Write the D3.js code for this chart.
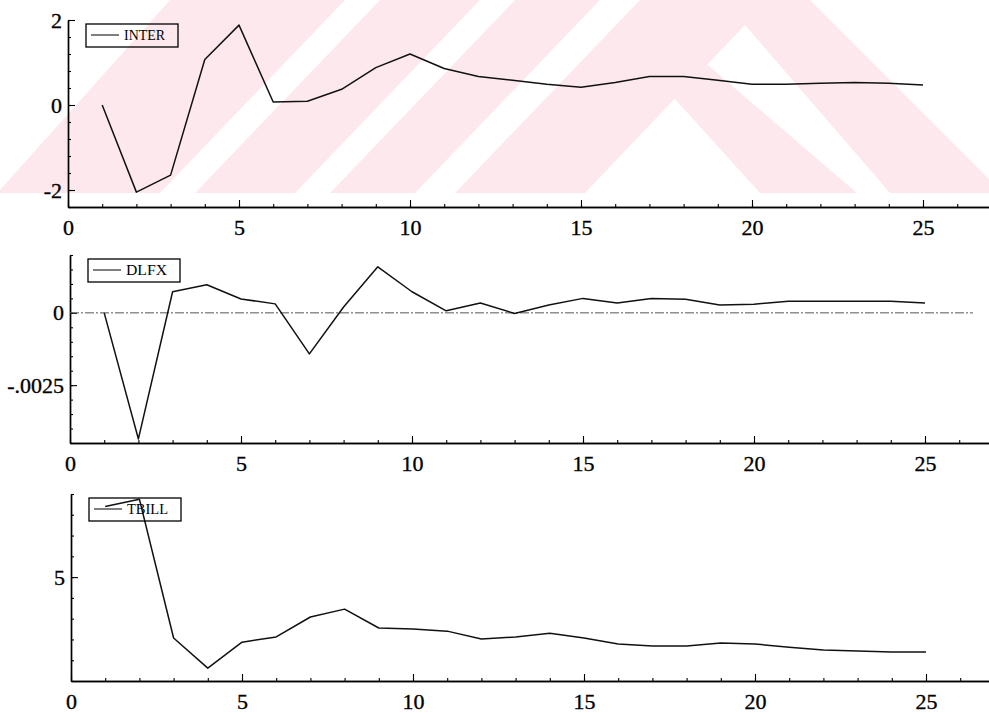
<!DOCTYPE html>
<html>
<head>
<meta charset="utf-8">
<script src="https://cdn.jsdelivr.net/npm/d3@7"></script>
<style>
	body { margin: 0; background: #fff; }
	svg { display: block; }
	svg text { font-family: "Liberation Serif", "Times New Roman", serif; fill: #000; }
</style>
</head>
<body>
<div id="chart"></div>
<script>
// impulse responses, lags 1..25
var lags = d3.range(1, 26);

var inter = [0, -2.05, -1.65, 1.07, 1.88, 0.07, 0.09, 0.37, 0.88, 1.2, 0.86, 0.67, 0.58,
	0.49, 0.42, 0.53, 0.67, 0.67, 0.58, 0.49, 0.49, 0.51, 0.53, 0.51, 0.47];

var dlfx = [0, -0.00436, 0.00073, 0.00097, 0.00048, 0.00031, -0.00142, 0.0002, 0.00159,
	0.00073, 0.00007, 0.00034, -0.00002, 0.00027, 0.0005, 0.00034, 0.0005, 0.00047,
	0.00027, 0.0003, 0.0004, 0.0004, 0.0004, 0.0004, 0.00034];

var tbill = [8.4, 8.75, 2.07, 0.62, 1.87, 2.12, 3.08, 3.46, 2.55, 2.5, 2.4, 2.02, 2.12,
	2.3, 2.07, 1.78, 1.68, 1.68, 1.83, 1.78, 1.63, 1.49, 1.44, 1.39, 1.39];

var seriesNames = ['INTER', 'DLFX', 'TBILL'];
var xTickLabels = [0, 5, 10, 15, 20, 25];
var interTicks = [-2, 0, 2];
var dlfxTicks = [0, -0.0025];
var tbillTicks = [5];

var width = 989,
	height = 713;

var serif = '"Liberation Serif", "Times New Roman", serif';

var svg = d3.select('#chart').append('svg')
	.attr('width', width)
	.attr('height', height);

// faint watermark behind the top panel
(function () {
	var wm = svg.append('g');
	var poly = function (pts, fill) {
		wm.append('polygon')
			.attr('points', pts.map(function (p) { return p.join(','); }).join(' '))
			.style('fill', fill);
	};
	poly([[170, 0], [810, 0], [989, 179], [989, 193], [0, 193], [0, 190]], '#fde9ed');
	poly([[160, 193], [195, 193], [380, 0], [345, 0]], '#fff');
	poly([[295, 193], [330, 193], [515, 0], [480, 0]], '#fff');
	poly([[415, 193], [455, 193], [640, 0], [600, 0]], '#fff');
	poly([[745, 25], [890, 193], [585, 193]], '#fff');
	poly([[702, 60], [857, 193], [760, 193], [673, 97]], '#fde9ed');
})();

var panels = [
	{ name: seriesNames[0], values: inter, left: 68, top: 20, bottom: 207,
		domain: [-2.4, 2.0], minor: d3.range(-2.4, 2.01, 0.4), major: interTicks,
		fmt: function (d) { return String(d); } },
	{ name: seriesNames[1], values: dlfx, left: 70, top: 255, bottom: 443,
		domain: [-0.0045, 0.002], minor: d3.range(-0.0045, 0.00201, 0.0005), major: dlfxTicks,
		fmt: function (d) { return d === 0 ? '0' : '-' + String(Math.abs(d)).replace('0.', '.'); },
		zero: true },
	{ name: seriesNames[2], values: tbill, left: 71, top: 494, bottom: 681,
		domain: [0, 9], minor: d3.range(0, 9.01, 1), major: tbillTicks,
		fmt: function (d) { return String(d); } }
];

var unit = 34.2;

function styleLabels(sel) {
	sel.attr('font-family', null).attr('font-size', null);
	sel.selectAll('text')
		.style('font-family', serif)
		.style('font-size', '22px')
		.style('stroke', '#000')
		.style('stroke-width', 0.35);
}

panels.forEach(function (p) {
	var x = d3.scaleLinear()
		.domain([0, (width - p.left) / unit])
		.range([p.left, width]);

	var y = d3.scaleLinear()
		.domain(p.domain)
		.range([p.bottom, p.top]);

	var g = svg.append('g');

	// x axis: minor ticks every lag, major every 5, all pointing up
	g.append('g')
		.attr('transform', 'translate(0,' + p.bottom + ')')
		.call(d3.axisBottom(x).tickValues(d3.range(0, 27)).tickFormat('')
			.tickSizeInner(-3).tickSizeOuter(0));

	g.append('g')
		.attr('transform', 'translate(0,' + p.bottom + ')')
		.call(d3.axisBottom(x).tickValues(xTickLabels)
			.tickSizeInner(-7).tickSizeOuter(0).tickPadding(12))
		.call(styleLabels);

	// y axis
	g.append('g')
		.attr('transform', 'translate(' + p.left + ',0)')
		.call(d3.axisLeft(y).tickValues(p.minor).tickFormat('')
			.tickSizeInner(-3).tickSizeOuter(0));

	g.append('g')
		.attr('transform', 'translate(' + p.left + ',0)')
		.call(d3.axisLeft(y).tickValues(p.major).tickFormat(p.fmt)
			.tickSizeInner(-7).tickSizeOuter(0).tickPadding(6))
		.call(styleLabels);

	g.selectAll('.domain').style('stroke', '#000').style('stroke-width', 1.4);
	g.selectAll('.tick line').style('stroke', '#000').style('stroke-width', 1.1);

	if (p.zero) {
		g.append('line')
			.attr('x1', x(0))
			.attr('x2', x(26.4))
			.attr('y1', y(0))
			.attr('y2', y(0))
			.style('stroke', '#555')
			.style('stroke-width', 1)
			.style('stroke-dasharray', '9,2,2,2');
	}

	var line = d3.line()
		.x(function (d, i) { return x(lags[i]); })
		.y(function (d) { return y(d); });

	g.append('path')
		.datum(p.values)
		.attr('d', line)
		.style('fill', 'none')
		.style('stroke', '#111')
		.style('stroke-width', 1.5)
		.style('stroke-linejoin', 'round');

	// legend box
	var lg = g.append('g')
		.attr('transform', 'translate(' + (p.left + 18) + ',' + (p.top + 4) + ')');
	lg.append('rect')
		.attr('width', 92)
		.attr('height', 23)
		.style('fill', 'none')
		.style('stroke', '#000')
		.style('stroke-width', 1.3);
	lg.append('line')
		.attr('x1', 5)
		.attr('x2', 33)
		.attr('y1', 11)
		.attr('y2', 11)
		.style('stroke', '#000')
		.style('stroke-width', 1);
	lg.append('text')
		.attr('x', 38)
		.attr('y', 16)
		.attr('textLength', 41)
		.attr('lengthAdjust', 'spacingAndGlyphs')
		.style('font-family', serif)
		.style('font-size', '15px')
		.text(p.name);
});
</script>
</body>
</html>
